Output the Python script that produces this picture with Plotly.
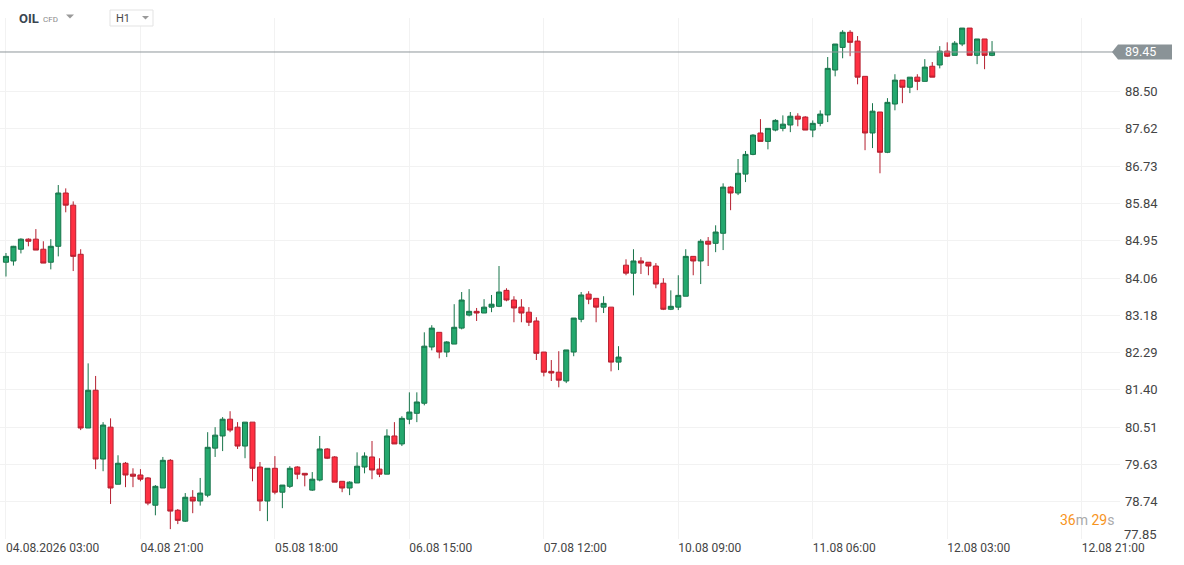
import plotly.graph_objects as go

# OIL CFD, H1 candles
opens = [84.44, 84.47, 84.75, 84.99, 84.99, 84.75, 84.44, 84.82, 86.09, 85.80,
         84.63, 80.49, 81.39, 79.75, 80.51, 79.15, 79.65, 79.39, 79.37, 79.30,
         78.65, 79.06, 79.72, 78.53, 78.27, 78.84, 78.75, 78.89, 80.01, 80.30,
         80.70, 80.51, 80.06, 80.63, 79.56, 78.75, 79.53, 78.96, 79.10, 79.56,
         79.41, 79.01, 79.25, 79.99, 79.80, 79.22, 79.06, 79.18, 79.56, 79.80,
         79.51, 79.39, 80.30, 80.11, 80.70, 80.84, 81.08, 82.42, 82.77, 82.30,
         82.49, 82.87, 83.18, 83.27, 83.23, 83.37, 83.39, 83.77, 83.54, 83.37,
         83.25, 83.04, 82.30, 81.84, 81.82, 81.61, 82.30, 83.08, 83.68, 83.58,
         83.37, 83.37, 82.06, 84.37, 84.18, 84.47, 84.44, 84.35, 83.94, 83.32,
         83.37, 83.63, 84.58, 84.47, 84.94, 84.89, 85.13, 86.23, 86.09, 86.54,
         87.01, 87.52, 87.32, 87.59, 87.63, 87.71, 87.92, 87.90, 87.59, 87.75,
         87.95, 89.02, 89.56, 89.92, 89.71, 88.87, 87.52, 88.02, 87.06, 88.21,
         88.78, 88.61, 88.85, 88.75, 89.11, 89.14, 89.47, 89.37, 89.64, 90.02,
         89.37, 89.76, 89.37]
highs = [84.66, 84.83, 85.01, 85.01, 85.23, 84.94, 84.99, 86.28, 86.20, 85.89,
         84.75, 82.03, 81.73, 80.63, 80.72, 79.84, 79.68, 79.53, 79.51, 79.32,
         79.13, 79.80, 79.75, 78.56, 78.94, 79.01, 79.30, 80.39, 80.51, 80.75,
         80.89, 80.63, 80.63, 80.63, 79.68, 79.53, 79.82, 79.13, 79.58, 79.58,
         79.41, 79.44, 80.30, 80.01, 79.82, 79.22, 79.22, 79.91, 79.91, 80.18,
         79.77, 80.46, 80.63, 80.77, 81.34, 81.34, 82.77, 82.94, 82.77, 82.56,
         83.44, 83.73, 83.80, 83.35, 83.56, 83.66, 84.35, 83.82, 83.63, 83.56,
         83.37, 83.13, 82.30, 82.11, 82.32, 82.35, 83.11, 83.73, 83.75, 83.58,
         83.63, 83.37, 82.44, 84.51, 84.75, 84.56, 84.44, 84.42, 84.06, 83.77,
         84.13, 84.75, 84.58, 84.99, 85.04, 85.32, 86.32, 86.25, 86.90, 87.09,
         87.49, 87.85, 87.63, 87.85, 87.94, 88.02, 87.99, 87.92, 87.82, 88.06,
         89.33, 89.64, 89.97, 89.97, 89.83, 88.87, 88.23, 88.02, 88.35, 88.92,
         88.78, 88.85, 88.92, 89.28, 89.21, 89.59, 89.68, 89.71, 90.02, 90.02,
         89.76, 89.76, 89.71]
lows = [84.10, 84.36, 84.65, 84.82, 84.73, 84.42, 84.27, 84.58, 85.63, 84.23,
        80.44, 80.49, 79.51, 79.46, 78.68, 79.15, 79.08, 79.08, 79.22, 78.65,
        78.41, 79.06, 78.08, 78.20, 78.25, 78.46, 78.64, 78.84, 79.80, 79.94,
        80.39, 79.99, 79.77, 79.22, 78.51, 78.27, 78.91, 78.58, 79.06, 79.27,
        79.10, 78.99, 79.22, 79.75, 79.20, 78.96, 78.89, 79.18, 79.41, 79.27,
        79.32, 79.39, 80.11, 80.06, 80.58, 80.63, 81.03, 82.34, 82.15, 82.18,
        82.49, 82.84, 83.15, 83.04, 83.23, 83.25, 83.37, 83.51, 83.01, 83.01,
        82.92, 82.11, 81.72, 81.61, 81.46, 81.56, 82.20, 83.01, 83.44, 83.01,
        83.23, 81.84, 81.87, 84.13, 83.65, 84.16, 84.13, 83.82, 83.30, 83.30,
        83.30, 83.63, 84.13, 83.92, 84.35, 84.68, 84.73, 85.68, 86.04, 86.35,
        86.99, 87.32, 87.13, 87.56, 87.56, 87.54, 87.68, 87.59, 87.42, 87.68,
        87.78, 88.87, 89.30, 89.35, 88.68, 87.11, 87.16, 86.56, 87.04, 88.06,
        88.23, 88.47, 88.54, 88.75, 88.85, 89.06, 89.33, 89.37, 89.59, 89.37,
        89.16, 89.04, 89.35]
closes = [84.58, 84.82, 84.99, 84.94, 84.73, 84.42, 84.82, 86.09, 85.80, 84.58,
          80.49, 81.39, 79.75, 80.56, 79.06, 79.65, 79.37, 79.34, 79.27, 78.70,
          79.10, 79.72, 78.51, 78.29, 78.84, 78.75, 78.94, 80.03, 80.32, 80.70,
          80.44, 80.06, 80.63, 79.53, 78.75, 79.53, 78.96, 79.13, 79.53, 79.39,
          79.37, 79.27, 79.99, 79.77, 79.20, 79.06, 79.20, 79.58, 79.82, 79.49,
          79.39, 80.30, 80.11, 80.72, 80.87, 81.11, 82.44, 82.87, 82.30, 82.54,
          82.89, 83.54, 83.27, 83.23, 83.37, 83.44, 83.73, 83.54, 83.35, 83.23,
          83.01, 82.27, 81.82, 81.80, 81.63, 82.35, 83.11, 83.66, 83.56, 83.37,
          83.46, 82.06, 82.18, 84.18, 84.47, 84.42, 84.35, 83.92, 83.32, 83.39,
          83.65, 84.58, 84.47, 84.94, 84.87, 85.16, 86.23, 86.09, 86.56, 87.01,
          87.47, 87.32, 87.63, 87.82, 87.73, 87.92, 87.85, 87.59, 87.75, 87.97,
          89.06, 89.64, 89.92, 89.68, 88.85, 87.52, 88.04, 87.06, 88.25, 88.78,
          88.61, 88.85, 88.75, 89.09, 88.85, 89.47, 89.35, 89.66, 90.02, 89.37,
          89.76, 89.37, 89.45]

# x axis: one label every 18 candles
tick_pos = [0, 18, 36, 54, 72, 90, 108, 126, 144]
tick_labels = ["04.08.2026 03:00", "04.08 21:00", "05.08 18:00", "06.08 15:00",
               "07.08 12:00", "10.08 09:00", "11.08 06:00", "12.08 03:00",
               "12.08 21:00"]
price_ticks = [77.85, 78.74, 79.63, 80.51, 81.40, 82.29, 83.18, 84.06,
               84.95, 85.84, 86.73, 87.62, 88.50]
last_price = closes[-1]

idx = list(range(len(closes)))

# plot box in pixels (used to place header items)
PX_W, PX_TOP, PX_BOT = 1120, 18, 539


def px_x(X):
    return X / PX_W


def px_y(Y):
    return (PX_BOT - Y) / (PX_BOT - PX_TOP)


fig = go.Figure()
fig.add_trace(go.Candlestick(
    x=idx, open=opens, high=highs, low=lows, close=closes,
    increasing=dict(line=dict(color="#17744a", width=1), fillcolor="#24a86e"),
    decreasing=dict(line=dict(color="#b51f2f", width=1), fillcolor="#ff3042"),
    whiskerwidth=0, hoverinfo="skip", showlegend=False,
))

shapes = [
    # current price line
    dict(type="line", xref="paper", yref="y", x0=0, x1=px_x(1113),
         y0=last_price, y1=last_price, line=dict(color="#8f979b", width=1)),
    # price tag with arrow
    dict(type="path", xref="paper", yref="y", fillcolor="#8a9397", line=dict(width=0),
         path=(f"M {px_x(1112)},{last_price} L {px_x(1118)},{last_price + 0.18} "
               f"L {px_x(1172)},{last_price + 0.18} L {px_x(1172)},{last_price - 0.18} "
               f"L {px_x(1118)},{last_price - 0.18} Z")),
    # H1 selector box
    dict(type="rect", xref="paper", yref="paper", x0=px_x(110), x1=px_x(153),
         y0=px_y(26), y1=px_y(10), fillcolor="white",
         line=dict(color="#e3e3e3", width=1)),
    # dropdown arrows
    dict(type="path", xref="paper", yref="paper", fillcolor="#9a9a9a", line=dict(width=0),
         path=f"M {px_x(66)},{px_y(14.5)} L {px_x(74)},{px_y(14.5)} L {px_x(70)},{px_y(18.5)} Z"),
    dict(type="path", xref="paper", yref="paper", fillcolor="#9a9a9a", line=dict(width=0),
         path=f"M {px_x(142)},{px_y(16)} L {px_x(149)},{px_y(16)} L {px_x(145.5)},{px_y(19.5)} Z"),
]

annotations = [
    dict(xref="paper", yref="y", x=px_x(1140), y=last_price, text="89.45",
         showarrow=False, font=dict(family="Roboto", size=12.5, color="white"),
         xanchor="center", yanchor="middle"),
    # lowest price label sits a little above its grid line
    dict(xref="paper", yref="paper", x=px_x(1122), y=px_y(534), text=f"{price_ticks[0]:.2f}",
         showarrow=False, font=dict(family="Roboto", size=13, color="#444444"),
         xanchor="left", yanchor="middle"),
    dict(xref="paper", yref="paper", x=px_x(17), y=px_y(18), text="<b>OIL</b>",
         showarrow=False, font=dict(family="Roboto", size=13, color="#3a4550"),
         xanchor="left", yanchor="middle"),
    dict(xref="paper", yref="paper", x=px_x(41), y=px_y(19), text="CFD",
         showarrow=False, font=dict(family="Roboto", size=8, color="#8a8a8a"),
         xanchor="left", yanchor="middle"),
    dict(xref="paper", yref="paper", x=px_x(114), y=px_y(18), text="H1",
         showarrow=False, font=dict(family="Roboto", size=11, color="#4a4a4a"),
         xanchor="left", yanchor="middle"),
    dict(xref="paper", yref="paper", x=px_x(1116), y=px_y(520),
         text=("<span style='color:#f7941d'>36</span>m "
               "<span style='color:#f7941d'>29</span>s"),
         showarrow=False, font=dict(family="Roboto", size=14, color="#aaaaaa"),
         xanchor="right", yanchor="middle"),
]

fig.update_layout(
    width=1184, height=565,
    margin=dict(l=0, r=1184 - PX_W, t=PX_TOP, b=565 - PX_BOT),
    paper_bgcolor="white", plot_bgcolor="white",
    boxgap=0.1, boxgroupgap=0.25,
    shapes=shapes, annotations=annotations,
    xaxis=dict(
        range=[-0.8, (PX_W - 6) / 7.47], rangeslider=dict(visible=False),
        tickmode="array", tickvals=tick_pos, ticktext=tick_labels,
        ticklabelposition="outside right",
        showgrid=True, gridcolor="#f2f2f2", gridwidth=1,
        zeroline=False, showline=False, ticks="",
        tickfont=dict(family="Roboto", size=12, color="#444444"),
    ),
    yaxis=dict(
        side="right", range=[77.845, 90.26],
        tickmode="array", tickvals=price_ticks,
        ticktext=[""] + [f"{v:.2f}" for v in price_ticks[1:]],
        ticklabelstandoff=4,
        showgrid=True, gridcolor="#f2f2f2", gridwidth=1,
        zeroline=False, showline=False, ticks="",
        tickfont=dict(family="Roboto", size=13, color="#444444"),
    ),
)

# page body has an 8px default margin; drop it so the figure fills the window
fig.write_html("out.html", config={"displayModeBar": False},
               post_script="document.body.style.margin = '0';")
